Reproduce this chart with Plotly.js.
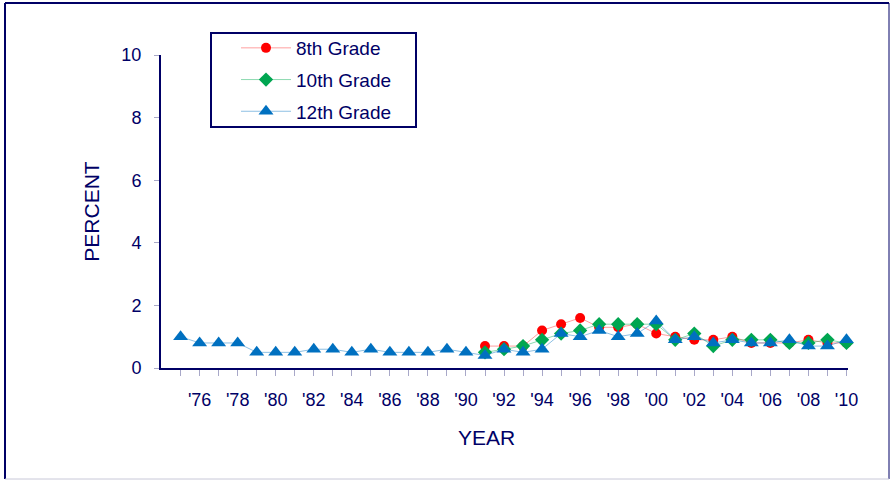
<!DOCTYPE html>
<html><head><meta charset="utf-8">
<script src="https://cdn.plot.ly/plotly-3.0.1.min.js"></script>
<style>html,body{margin:0;padding:0;background:#fff}#chart{width:896px;height:480px}</style>
</head><body><div id="chart"></div>
<script>
const years12 = [1975,1976,1977,1978,1979,1980,1981,1982,1983,1984,1985,1986,1987,1988,1989,1990,1991,1992,1993,1994,1995,1996,1997,1998,1999,2000,2001,2002,2003,2004,2005,2006,2007,2008,2009,2010];
const grade12 = [1.0,0.8,0.8,0.8,0.5,0.5,0.5,0.6,0.6,0.5,0.6,0.5,0.5,0.5,0.6,0.5,0.4,0.6,0.5,0.6,1.1,1.0,1.2,1.0,1.1,1.5,0.9,1.0,0.8,0.9,0.8,0.8,0.9,0.7,0.7,0.9];
const years810 = [1991,1992,1993,1994,1995,1996,1997,1998,1999,2000,2001,2002,2003,2004,2005,2006,2007,2008,2009,2010];
const grade8 = [0.7,0.7,0.7,1.2,1.4,1.6,1.3,1.3,1.4,1.1,1.0,0.9,0.9,1.0,0.8,0.8,0.8,0.9,0.8,0.8];
const grade10 = [0.5,0.6,0.7,0.9,1.1,1.2,1.4,1.4,1.4,1.4,0.9,1.1,0.7,0.9,0.9,0.9,0.8,0.8,0.9,0.8];
const tickYears = years12;
const tickLabels = ["","'76","","'78","","'80","","'82","","'84","","'86","","'88","","'90","","'92","","'94","","'96","","'98","","'00","","'02","","'04","","'06","","'08","","'10"];
const seriesNames = ["8th Grade","10th Grade","12th Grade"];

const navy = '#000066';
const fam = 'Liberation Sans, Arial, sans-serif';
const tickFont = {family:fam, size:18, color:navy};
const titleFont = {family:fam, size:21, color:navy};
const legFont = {family:fam, size:19, color:navy};

const traces = [
  {x:years810, y:grade8, name:seriesNames[0], legendgroup:'a', mode:'lines+markers', cliponaxis:false,
   line:{color:'rgba(255,80,80,0.55)', width:1}, marker:{symbol:'circle', size:10, color:'#FF0000'}},
  {x:years810, y:grade10, name:seriesNames[1], legendgroup:'b', mode:'lines+markers', cliponaxis:false,
   line:{color:'rgba(0,170,80,0.45)', width:1}, marker:{symbol:'diamond', size:11, color:'#00A651'}},
  {x:years12, y:grade12, name:seriesNames[2], legendgroup:'c', mode:'lines+markers', cliponaxis:false,
   line:{color:'rgba(0,112,192,0.45)', width:1}, marker:{symbol:'triangle-up', size:13, color:'#0070C0'}}
];

const W = 687, H = 313, L = 161, T = 55;
function px(x){return (x-L)/W;}
function py(y){return (T+H-y)/H;}

const layout = {
  width:896, height:480,
  margin:{l:161, r:48, t:55, b:112},
  paper_bgcolor:'#fff', plot_bgcolor:'#fff',
  font:tickFont,
  showlegend:true,
  legend:{x:px(236), y:py(29), xanchor:'left', yanchor:'top', bgcolor:'rgba(0,0,0,0)',
          borderwidth:0, font:legFont, tracegroupgap:4, traceorder:'grouped', itemwidth:50},
  xaxis:{range:[1973.97,2010.08], tickmode:'array', tickvals:tickYears, ticktext:tickLabels,
         showgrid:false, zeroline:false, showline:true, linecolor:navy, linewidth:2,
         ticks:'outside', ticklen:6, tickcolor:'#A8A8C8', tickwidth:1, ticklabelstandoff:8,
         tickfont:tickFont},
  yaxis:{range:[0,10], dtick:2, tick0:0, showgrid:false, zeroline:false, showline:true,
         linecolor:navy, linewidth:2, ticks:'outside', ticklen:5, tickcolor:'#A8A8C8', tickwidth:1,
         ticklabelstandoff:9, tickfont:tickFont, title:{text:'PERCENT', font:titleFont, standoff:16}},
  annotations:[
    {text:'YEAR', xref:'paper', yref:'paper', x:px(486), y:py(437), xanchor:'center', yanchor:'middle',
     showarrow:false, font:titleFont}
  ],
  shapes:[
    {type:'rect', xref:'paper', yref:'paper', x0:px(211), x1:px(416), y0:py(33), y1:py(127),
     line:{color:navy, width:2}, fillcolor:'rgba(0,0,0,0)'},
    {type:'line', xref:'paper', yref:'paper', x0:px(5), x1:px(5), y0:py(3), y1:py(479), line:{color:navy, width:2}},
    {type:'line', xref:'paper', yref:'paper', x0:px(5), x1:px(889), y0:py(3), y1:py(3), line:{color:navy, width:2}},
    {type:'line', xref:'paper', yref:'paper', x0:px(889), x1:px(889), y0:py(3), y1:py(479), line:{color:navy, width:1}},
    {type:'line', xref:'paper', yref:'paper', x0:px(5), x1:px(889), y0:py(479), y1:py(479), line:{color:'#C8C8D8', width:1}}
  ]
};
Plotly.newPlot('chart', traces, layout, {displayModeBar:false, staticPlot:true});
</script></body></html>
